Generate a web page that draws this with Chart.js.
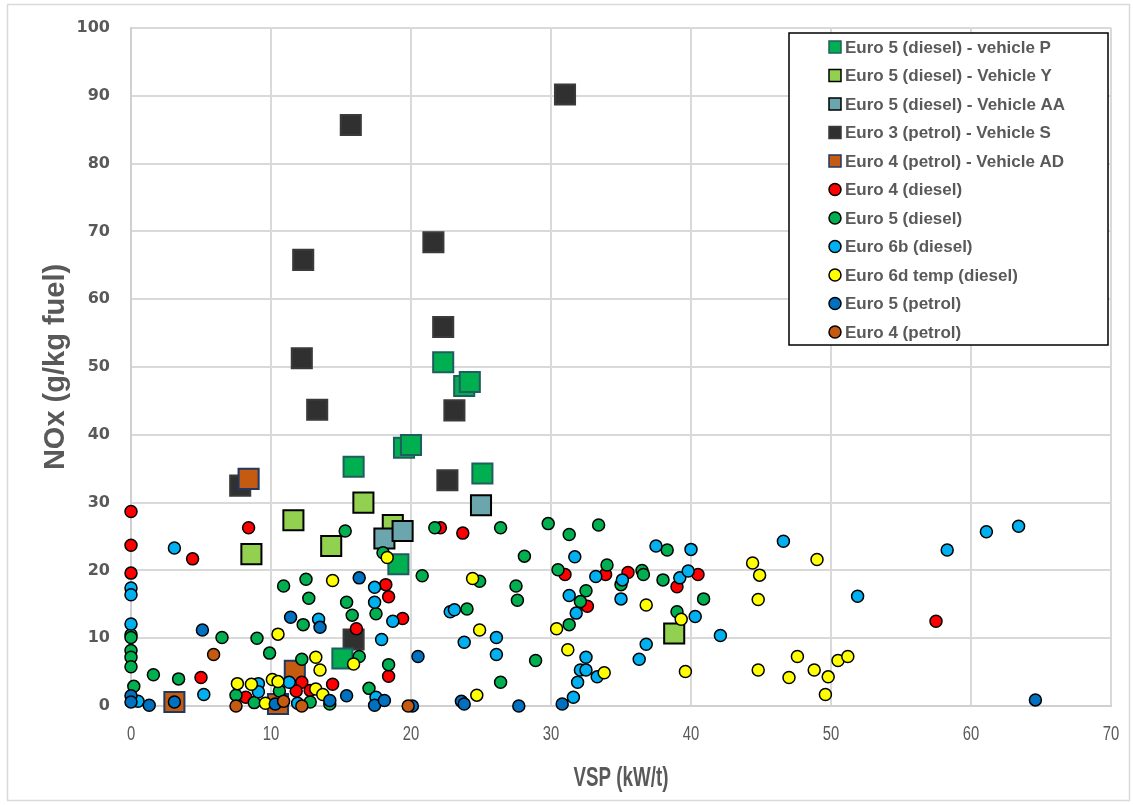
<!DOCTYPE html>
<html>
<head>
<meta charset="utf-8">
<script src="https://cdn.jsdelivr.net/npm/chart.js@4"></script>
<style>
  html, body { margin: 0; padding: 0; background: #fff; }
  #wrap { width: 1133px; height: 805px; }
</style>
</head>
<body>
<div id="wrap"><canvas id="nox" width="1133" height="805"></canvas></div>
<script>
// VSP (kW/t), NOx (g/kg fuel) pairs per vehicle group
const vehicleP = [[15.1, 7.0], [15.9, 35.3], [19.5, 38.1], [20.0, 38.5], [22.3, 50.7], [23.8, 47.2], [24.2, 47.8], [25.1, 34.3], [19.1, 20.9]];
const vehicleY = [[8.6, 22.4], [11.6, 27.4], [14.3, 23.6], [16.6, 30.0], [18.7, 26.7], [38.8, 10.7]];
const vehicleAA = [[18.1, 24.7], [19.4, 25.8], [25.0, 29.6]];
const vehicleS = [[7.8, 32.5], [12.2, 51.3], [12.3, 65.8], [13.3, 43.7], [15.7, 85.7], [15.9, 9.8], [21.6, 68.4], [22.3, 55.9], [23.1, 43.6], [22.6, 33.3], [31.0, 90.2]];
const vehicleAD = [[8.4, 33.5], [3.1, 0.6], [11.7, 5.2], [10.5, 0.3]];

const euro4Diesel = [[0, 28.7], [0, 23.7], [0, 19.6], [4.4, 21.7], [8.4, 26.3], [5.0, 4.2], [8.2, 1.3], [12.2, 3.5], [11.8, 2.2], [12.8, 2.3], [14.4, 3.2], [22.1, 26.3], [23.7, 25.5], [18.2, 17.9], [18.4, 16.1], [19.4, 12.9], [16.1, 11.4], [18.4, 4.4], [31.0, 19.4], [33.9, 19.4], [35.5, 19.7], [32.6, 14.7], [39.0, 17.6], [40.5, 19.4], [57.5, 12.5]];
const euro5Diesel = [[0, 10.5], [0, 10.1], [0, 8.2], [0, 7.2], [0, 5.8], [0.2, 2.9], [1.6, 4.6], [3.4, 4.0], [6.5, 10.1], [9.0, 10.0], [9.9, 7.8], [10.9, 17.7], [12.2, 6.9], [7.5, 1.6], [8.8, 0.5], [10.6, 2.2], [12.8, 0.6], [15.3, 25.8], [21.7, 26.3], [18.0, 22.6], [20.8, 19.2], [12.5, 18.7], [17.5, 13.6], [12.7, 15.9], [15.4, 15.3], [15.8, 13.4], [12.3, 12.0], [24.0, 14.3], [16.3, 7.3], [18.4, 6.1], [17.0, 2.6], [14.2, 0.3], [24.9, 18.4], [26.4, 3.5], [26.4, 26.3], [29.8, 26.9], [31.3, 25.3], [33.4, 26.7], [28.1, 22.1], [27.5, 17.7], [27.6, 15.6], [30.5, 20.1], [34.0, 20.8], [36.5, 20.0], [36.6, 19.4], [35.0, 17.9], [32.5, 17.0], [32.1, 15.4], [31.3, 12.0], [28.9, 6.7], [38.3, 23.0], [38.0, 18.6], [40.9, 15.8], [39.0, 13.9]];
const euro6bDiesel = [[0, 17.4], [0, 16.4], [0, 12.1], [0.5, 0.7], [3.1, 23.3], [5.2, 1.7], [9.1, 3.3], [9.1, 2.1], [11.3, 3.5], [11.9, 0.4], [13.4, 12.8], [17.4, 17.5], [17.4, 15.3], [18.7, 12.5], [17.9, 9.8], [17.5, 1.3], [22.8, 13.9], [23.1, 14.2], [23.8, 9.4], [26.1, 10.1], [26.1, 7.6], [31.7, 22.0], [33.2, 19.1], [35.1, 18.6], [35.0, 15.8], [31.3, 16.3], [31.8, 13.7], [32.5, 7.2], [32.1, 5.3], [32.5, 5.3], [33.3, 4.3], [31.9, 3.5], [31.6, 1.3], [36.8, 9.1], [36.3, 6.9], [37.5, 23.6], [40.0, 23.1], [46.6, 24.3], [39.2, 18.9], [39.8, 19.9], [40.3, 13.2], [42.1, 10.4], [51.9, 16.2], [58.3, 23.0], [61.1, 25.7], [63.4, 26.5]];
const euro6dTempDiesel = [[10.5, 10.6], [7.6, 3.3], [8.6, 3.2], [9.6, 0.4], [10.1, 3.9], [10.5, 3.6], [13.2, 2.5], [13.2, 7.2], [13.5, 5.3], [13.7, 1.7], [14.4, 18.5], [18.3, 21.9], [15.9, 6.2], [24.4, 18.8], [24.9, 11.2], [24.7, 1.6], [30.4, 11.4], [36.8, 14.9], [31.2, 8.3], [33.8, 4.9], [44.4, 21.1], [44.9, 19.3], [49.0, 21.6], [39.3, 12.8], [44.8, 15.7], [39.6, 5.1], [44.8, 5.3], [47.6, 7.3], [47.0, 4.2], [48.8, 5.3], [49.8, 4.3], [49.6, 1.7], [50.5, 6.7], [51.2, 7.3]];
const euro5Petrol = [[0, 1.5], [0, 0.6], [1.3, 0.1], [5.1, 11.2], [11.4, 13.1], [3.1, 0.6], [10.3, 0.3], [16.3, 18.9], [13.5, 11.6], [20.5, 7.3], [15.4, 1.5], [17.4, 0.1], [18.1, 0.8], [20.1, 0.0], [23.6, 0.7], [23.8, 0.3], [14.2, 0.8], [30.8, 0.3], [27.7, 0.0], [64.6, 0.9]];
const euro4Petrol = [[5.9, 7.6], [7.5, 0.0], [10.9, 0.7], [12.2, 0.0], [19.8, 0.0]];

const xTicks = [0, 10, 20, 30, 40, 50, 60, 70];
const yTicks = [0, 10, 20, 30, 40, 50, 60, 70, 80, 90, 100];
const xTitle = 'VSP (kW/t)';
const yTitle = 'NOx (g/kg fuel)';

const toXY = pts => pts.map(p => ({ x: p[0], y: p[1] }));

// legend order; z sets which group is painted over which
const series = [
  { label: 'Euro 5 (diesel) - vehicle P', pts: vehicleP, fill: '#00b050', line: '#1f5d5f', shape: 'rect', z: 4 },
  { label: 'Euro 5 (diesel) - Vehicle Y', pts: vehicleY, fill: '#92d050', line: '#000000', shape: 'rect', z: 2 },
  { label: 'Euro 5 (diesel) - Vehicle AA', pts: vehicleAA, fill: '#6ba5ad', line: '#000000', shape: 'rect', z: 3 },
  { label: 'Euro 3 (petrol) - Vehicle S', pts: vehicleS, fill: '#303030', line: '#3a3a3a', shape: 'rect', z: 1 },
  { label: 'Euro 4 (petrol) - Vehicle AD', pts: vehicleAD, fill: '#c55a11', line: '#1f3864', shape: 'rect', z: 5 },
  { label: 'Euro 4 (diesel)', pts: euro4Diesel, fill: '#ff0000', line: '#000000', shape: 'circle', z: 6 },
  { label: 'Euro 5 (diesel)', pts: euro5Diesel, fill: '#00b050', line: '#000000', shape: 'circle', z: 7 },
  { label: 'Euro 6b (diesel)', pts: euro6bDiesel, fill: '#00b0f0', line: '#000000', shape: 'circle', z: 8 },
  { label: 'Euro 6d temp (diesel)', pts: euro6dTempDiesel, fill: '#ffff00', line: '#000000', shape: 'circle', z: 9 },
  { label: 'Euro 5 (petrol)', pts: euro5Petrol, fill: '#0070c0', line: '#000000', shape: 'circle', z: 10 },
  { label: 'Euro 4 (petrol)', pts: euro4Petrol, fill: '#c55a11', line: '#000000', shape: 'circle', z: 11 }
];

const datasets = series.map(s => ({
  label: s.label,
  data: toXY(s.pts),
  pointStyle: s.shape,
  pointRadius: s.shape === 'rect' ? 14.2 : 6,
  pointBorderWidth: s.shape === 'rect' ? 2 : 1.5,
  backgroundColor: s.fill,
  borderColor: s.line,
  clip: false,
  order: 20 - s.z
}));

const GREY = '#595959';
const SANS = '"Liberation Sans", Arial, sans-serif';

// white page with a thin frame
const frame = {
  id: 'frame',
  beforeDraw(chart) {
    const ctx = chart.ctx;
    ctx.save();
    ctx.fillStyle = '#ffffff';
    ctx.fillRect(0, 0, chart.width, chart.height);
    ctx.strokeStyle = '#d9d9d9';
    ctx.lineWidth = 1.5;
    ctx.strokeRect(7.5, 4.5, 1122, 796);
    ctx.restore();
  }
};

// narrow x tick labels and axis titles
const axisText = {
  id: 'axisText',
  afterDraw(chart) {
    const ctx = chart.ctx;
    const xs = chart.scales.x;
    const area = chart.chartArea;
    ctx.save();
    ctx.fillStyle = GREY;
    ctx.textAlign = 'center';
    ctx.textBaseline = 'middle';

    ctx.font = '20px ' + SANS;
    xTicks.forEach(v => {
      ctx.save();
      ctx.translate(xs.getPixelForValue(v), area.bottom + 28);
      ctx.scale(0.74, 1);
      ctx.fillText(String(v), 0, 0);
      ctx.restore();
    });

    ctx.font = 'bold 28px ' + SANS;
    ctx.save();
    ctx.translate((area.left + area.right) / 2, area.bottom + 72);
    ctx.scale(0.67, 1);
    ctx.fillText(xTitle, 0, 0);
    ctx.restore();

    ctx.font = 'bold 29px ' + SANS;
    ctx.save();
    ctx.translate(56, (area.top + area.bottom) / 2);
    ctx.rotate(-Math.PI / 2);
    ctx.fillText(yTitle, 0, 0);
    ctx.restore();

    ctx.restore();
  }
};

// boxed legend in the upper right of the plot
const boxLegend = {
  id: 'boxLegend',
  afterDatasetsDraw(chart) {
    const ctx = chart.ctx;
    const left = 789, top = 33, w = 319, h = 312;
    const rowH = 28.5, markX = 835, textX = 845;
    ctx.save();
    ctx.fillStyle = '#ffffff';
    ctx.fillRect(left, top, w, h);
    ctx.strokeStyle = '#000000';
    ctx.lineWidth = 1.5;
    ctx.strokeRect(left, top, w, h);
    ctx.font = 'bold 17px ' + SANS;
    ctx.textBaseline = 'middle';
    series.forEach((s, i) => {
      const y = top + 14 + i * rowH;
      ctx.fillStyle = s.fill;
      ctx.strokeStyle = s.line;
      ctx.lineWidth = 1.5;
      ctx.beginPath();
      if (s.shape === 'rect') {
        ctx.rect(markX - 6, y - 6, 12, 12);
      } else {
        ctx.arc(markX, y, 6, 0, Math.PI * 2);
      }
      ctx.fill();
      ctx.stroke();
      ctx.fillStyle = GREY;
      ctx.fillText(s.label, textX, y + 1);
    });
    ctx.restore();
  }
};

new Chart(document.getElementById('nox'), {
  type: 'scatter',
  data: { datasets },
  options: {
    responsive: false,
    animation: false,
    events: [],
    layout: { autoPadding: false, padding: { left: 8, top: 28, right: 22, bottom: 8 } },
    plugins: {
      legend: { display: false },
      tooltip: { enabled: false }
    },
    scales: {
      x: {
        type: 'linear',
        min: 0,
        max: 70,
        afterBuildTicks: scale => { scale.ticks = xTicks.map(v => ({ value: v })); },
        afterFit: scale => { scale.height = 91; },
        grid: { color: '#d9d9d9', lineWidth: 2, drawTicks: false },
        border: { color: '#d0d0d0', width: 2 },
        ticks: { display: false }
      },
      y: {
        type: 'linear',
        min: 0,
        max: 100,
        afterBuildTicks: scale => { scale.ticks = yTicks.map(v => ({ value: v })); },
        afterFit: scale => {
          scale.width = 123;
          scale.paddingTop = 0;
          scale.paddingBottom = 0;
        },
        grid: { color: '#d9d9d9', lineWidth: 2, drawTicks: false },
        border: { color: '#d0d0d0', width: 2 },
        ticks: {
          color: GREY,
          padding: 21,
          font: { family: '"DejaVu Sans", sans-serif', size: 16, weight: 'bold' }
        }
      }
    }
  },
  plugins: [frame, boxLegend, axisText]
});
</script>
</body>
</html>
